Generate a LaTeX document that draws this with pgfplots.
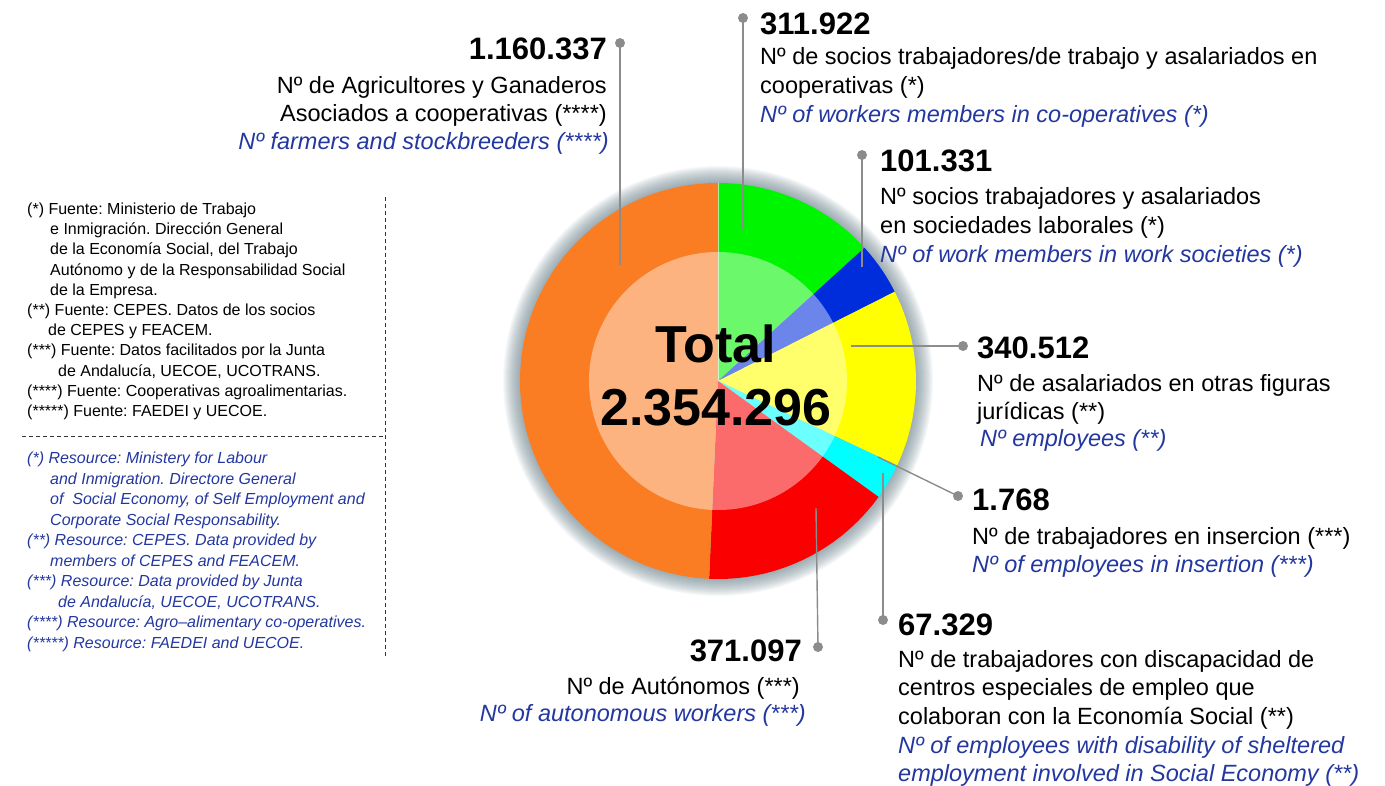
\documentclass[border=0pt]{standalone}
\usepackage{pgfplots}
\pgfplotsset{compat=1.18}
\usepackage{pgfplotstable}
\usepackage{fontspec}
\setmainfont{Liberation Sans}
\frenchspacing

\definecolor{slice0}{RGB}{0,245,0}
\definecolor{slice1}{RGB}{0,45,220}
\definecolor{slice2}{RGB}{255,255,0}
\definecolor{slice3}{RGB}{0,255,255}
\definecolor{slice4}{RGB}{0,255,255}
\definecolor{slice5}{RGB}{250,0,0}
\definecolor{slice6}{RGB}{250,125,35}
\definecolor{engblue}{RGB}{35,55,160}
\definecolor{pointer}{RGB}{140,140,140}
\definecolor{halo}{RGB}{95,120,130}

% values, clockwise from 12 o'clock
\pgfplotstableread{
value
311922
101331
340512
1768
67329
371097
1160337
}\piedata

\def\total{0}%
\pgfplotsforeachungrouped \i in {0,...,6}{%
  \pgfplotstablegetelem{\i}{value}\of\piedata
  \xdef\total{\fpeval{\total+\pgfplotsretval}}}%
\def\cum{0}%
\pgfplotsforeachungrouped \i in {0,...,6}{%
  \pgfplotstablegetelem{\i}{value}\of\piedata
  \expandafter\xdef\csname sa\i\endcsname{\fpeval{90-360*\cum/\total}}%
  \xdef\cum{\fpeval{\cum+\pgfplotsretval}}%
  \expandafter\xdef\csname ea\i\endcsname{\fpeval{90-360*\cum/\total}}}%

\newcommand{\numf}{\fontsize{31}{31}\selectfont\bfseries}
\newcommand{\txtf}{\fontsize{23.5}{28}\selectfont}
\newcommand{\engf}{\fontsize{23.5}{28}\selectfont\itshape\color{engblue}}
\newcommand{\notef}{\fontsize{16}{20}\selectfont}
\newcommand{\tl}[3]{\node[anchor=base west,inner sep=0] at (axis cs:#1,#2) {#3};}
\newcommand{\tr}[3]{\node[anchor=base east,inner sep=0] at (axis cs:#1,#2) {#3};}

\begin{document}
\begin{tikzpicture}
\begin{axis}[name=ax, width=1385pt, height=785pt, scale only axis,
    xmin=0, xmax=1385, ymin=0, ymax=785, y dir=reverse,
    hide axis, clip=false]

% soft shadow
\pgfplotsinvokeforeach{1,...,18}{
  \fill[halo,opacity=0.05] (axis cs:718,381) circle[radius={197pt+#1pt}];
}
% slices
\pgfplotsforeachungrouped \i in {0,...,6}{%
  \edef\temp{\noexpand\fill[slice\i] (axis cs:718,381) -- ++(\csname sa\i\endcsname:198pt)
    arc[start angle=\csname sa\i\endcsname, end angle=\csname ea\i\endcsname, radius=198pt] -- cycle;}%
  \temp
}
\fill[white,opacity=0.42] (axis cs:718,381) circle[radius=129pt];
\draw[white,opacity=0.6,line width=1pt] (axis cs:718,381) -- (axis cs:718,183);

% pointers
\begin{scope}[pointer,line width=1.4pt]
\draw (axis cs:620,43) -- (axis cs:620,265);
\draw (axis cs:743,18) -- (axis cs:743,230);
\draw (axis cs:862,155) -- (axis cs:862,267);
\draw (axis cs:963,346) -- (axis cs:851,346);
\draw (axis cs:958,496) -- (axis cs:878,457);
\draw (axis cs:883,620) -- (axis cs:883,473);
\draw (axis cs:818,647) -- (axis cs:816,508);
\fill (axis cs:620,43) circle[radius=5pt];
\fill (axis cs:743,18) circle[radius=5pt];
\fill (axis cs:862,155) circle[radius=5pt];
\fill (axis cs:963,346) circle[radius=5pt];
\fill (axis cs:958,496) circle[radius=5pt];
\fill (axis cs:883,620) circle[radius=5pt];
\fill (axis cs:818,647) circle[radius=5pt];
\end{scope}

% centre
\node[anchor=base,inner sep=0] at (axis cs:716,362) {\fontsize{52}{52}\selectfont\bfseries Total};
\node[anchor=base,inner sep=0] at (axis cs:716,425) {\fontsize{52}{52}\selectfont\bfseries 2.354.296};

% labels
\tr{607}{59}{\numf 1.160.337}
\tr{607}{93}{\txtf Nº de Agricultores y Ganaderos}
\tr{607}{121}{\txtf Asociados a cooperativas (****)}
\tr{609}{149}{\engf Nº farmers and stockbreeders (****)}

\tl{760}{34}{\numf 311.922}
\tl{760}{64}{\txtf Nº de socios trabajadores/de trabajo y asalariados en}
\tl{760}{93}{\txtf cooperativas (*)}
\tl{760}{122}{\engf Nº of workers members in co-operatives (*)}

\tl{880}{171}{\numf 101.331}
\tl{880}{204}{\txtf Nº socios trabajadores y asalariados}
\tl{880}{233}{\txtf en sociedades laborales (*)}
\tl{880}{262}{\engf Nº of work members in work societies (*)}

\tl{977}{358}{\numf 340.512}
\tl{977}{391}{\txtf Nº de asalariados en otras figuras}
\tl{977}{419}{\txtf jurídicas (**)}
\tl{980}{446}{\engf Nº employees (**)}

\tl{972}{510}{\numf 1.768}
\tl{972}{544}{\txtf Nº de trabajadores en insercion (***)}
\tl{972}{572}{\engf Nº of employees in insertion (***)}

\tl{898}{635}{\numf 67.329}
\tl{898}{667}{\txtf Nº de trabajadores con discapacidad de}
\tl{898}{695}{\txtf centros especiales de empleo que}
\tl{898}{724}{\txtf colaboran con la Economía Social (**)}
\tl{898}{753}{\engf Nº of employees with disability of sheltered}
\tl{898}{781}{\engf employment involved in Social Economy (**)}

\tr{802}{661}{\numf 371.097}
\tr{800}{694}{\txtf Nº de Autónomos (***)}
\tr{806}{721}{\engf Nº of autonomous workers (***)}

% notes
\draw[black!80,line width=0.9pt,dash pattern=on 4pt off 3pt] (axis cs:385,197) -- (axis cs:385,658);
\draw[black!80,line width=0.9pt,dash pattern=on 4pt off 3pt] (axis cs:22,436) -- (axis cs:385,436);

\tl{27}{214}{\notef (*) Fuente: Ministerio de Trabajo}
\tl{50}{234}{\notef e Inmigración. Dirección General}
\tl{50}{254}{\notef de la Economía Social, del Trabajo}
\tl{50}{275}{\notef Autónomo y de la Responsabilidad Social}
\tl{50}{295}{\notef de la Empresa.}
\tl{27}{315}{\notef (**) Fuente: CEPES. Datos de los socios}
\tl{48}{335}{\notef de CEPES y FEACEM.}
\tl{27}{355}{\notef (***) Fuente: Datos facilitados por la Junta}
\tl{58}{376}{\notef de Andalucía, UECOE, UCOTRANS.}
\tl{27}{396}{\notef (****) Fuente: Cooperativas agroalimentarias.}
\tl{27}{416}{\notef (*****) Fuente: FAEDEI y UECOE.}

\tl{27}{463}{\notef\itshape\color{engblue} (*) Resource: Ministery for Labour}
\tl{50}{484}{\notef\itshape\color{engblue} and Inmigration. Directore General}
\tl{50}{504}{\notef\itshape\color{engblue} of\ \ Social Economy, of Self Employment and}
\tl{50}{525}{\notef\itshape\color{engblue} Corporate Social Responsability.}
\tl{27}{545}{\notef\itshape\color{engblue} (**) Resource: CEPES. Data provided by}
\tl{50}{566}{\notef\itshape\color{engblue} members of CEPES and FEACEM.}
\tl{27}{586}{\notef\itshape\color{engblue} (***) Resource: Data provided by Junta}
\tl{58}{607}{\notef\itshape\color{engblue} de Andalucía, UECOE, UCOTRANS.}
\tl{27}{627}{\notef\itshape\color{engblue} (****) Resource: Agro--alimentary co-operatives.}
\tl{27}{648}{\notef\itshape\color{engblue} (*****) Resource: FAEDEI and UECOE.}
\end{axis}
\pgfresetboundingbox
\path (ax.south west) rectangle (ax.north east);
\end{tikzpicture}
\end{document}
